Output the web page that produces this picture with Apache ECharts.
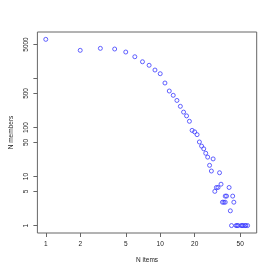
<!DOCTYPE html>
<html>
<head>
<meta charset="utf-8">
<script src="https://cdn.jsdelivr.net/npm/echarts@6/dist/echarts.min.js"></script>
<style>html,body{margin:0;padding:0;background:#fff;}#c{width:273px;height:273px;}</style>
</head>
<body>
<div id="c"></div>
<script>
var nItems = [1,2,3,4,5,6,7,8,9,10,11,12,13,14,15,16,17,18,19,20,21,22,23,24,25,26,29,27,28,33,34,31,32,40,30,37,38,43,35,36,37,44,41,42,46,47,48,51,52,53,55,56,58];
var nMembers = [6370,3800,4170,4040,3510,2810,2220,1880,1505,1265,817,561,458,360,273,208,174,135,88,82,72,51,42,37,30,25,23,17,13,12,7,6,6,6,5,4,4,4,3,3,3,3,2,1,1,1,1,1,1,1,1,1,1];
var xTicks = [1,2,5,10,20,50];
var yTicks = [1,5,10,50,100,500,1000,5000];
var yTickLabels = [1,5,10,50,100,500,5000];

var pts = nItems.map(function(x,i){return [x, nMembers[i]];});
var font = {fontFamily:'Liberation Sans', fontSize:6.5, color:'#222'};
var chart = echarts.init(document.getElementById('c'), null, {renderer:'canvas'});
chart.setOption({
  animation:false,
  backgroundColor:'#fff',
  grid:{left:31.7, right:16.3, top:32, bottom:40, show:true, borderColor:'#666', borderWidth:1, backgroundColor:'transparent'},
  xAxis:{
    type:'log', logBase:10, min:0.845, max:69.7,
    name:'N items', nameLocation:'middle', nameGap:24,
    nameTextStyle:font,
    axisLine:{show:false},
    splitLine:{show:false},
    minorTick:{show:false},
    axisTick:{show:true, inside:false, length:4, lineStyle:{color:'#666', width:1}, customValues:xTicks},
    axisLabel:Object.assign({margin:8, customValues:xTicks, formatter:function(v){return String(Math.round(v));}}, font)
  },
  yAxis:{
    type:'log', logBase:10, min:0.705, max:9000,
    name:'N members', nameLocation:'middle', nameGap:22, nameRotate:90,
    nameTextStyle:font,
    axisLine:{show:false},
    splitLine:{show:false},
    axisTick:{show:true, inside:false, length:4, lineStyle:{color:'#666', width:1}, customValues:yTicks},
    axisLabel:Object.assign({margin:7.5, rotate:90, customValues:yTickLabels, formatter:function(v){return String(Math.round(v));}}, font)
  },
  series:[{
    type:'scatter',
    data:pts,
    symbol:'circle',
    symbolSize:4,
    itemStyle:{color:'rgba(0,0,0,0)', borderColor:'#3b3bff', borderWidth:1}
  }]
});
</script>
</body>
</html>
